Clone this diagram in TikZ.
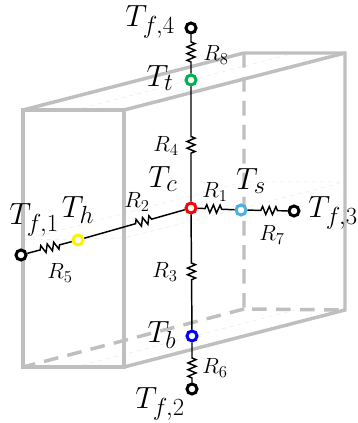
\documentclass[tikz,border=0pt]{standalone}
\usepackage{fix-cm}
\usetikzlibrary{decorations.pathmorphing}
\DeclareMathSizes{23}{23}{18.5}{14}
\DeclareMathSizes{16.5}{16.5}{12.5}{10}
\definecolor{boxgray}{RGB}{191,191,191}
\definecolor{skyblue}{RGB}{76,176,226}
\definecolor{tgreen}{RGB}{0,176,80}
\tikzset{
    temp/.style={draw=#1, circle, line width=2.25pt, fill=white,
                 minimum size=7.5pt, inner sep=0pt},
    wire/.style={line width=1.1pt},
    res/.style 2 args={wire, decorate, decoration={zigzag, amplitude=3pt,
                 segment length=5pt, pre length=#1, post length=#2}},
    edge/.style={draw=boxgray, line width=2.6pt, line join=miter},
    hidden/.style={edge, dash pattern=on 11pt off 7pt},
    faint/.style={draw=gray!14, line width=0.5pt, dashed},
    tlabel/.style={font=\fontsize{23}{28}\selectfont, inner sep=0pt},
    rlabel/.style={font=\fontsize{16.5}{20}\selectfont, inner sep=0pt},
}

\begin{document}
\begin{tikzpicture}[x=0.75pt,y=-0.75pt]
    \useasboundingbox (0,0) rectangle (357,423);

    \draw[faint] (75,110) -- (295,53);
    \draw[faint] (75,367) -- (295,310);
    \draw[faint] (23,240) -- (124,238) -- (345,182);
    \draw[faint] (23,240) -- (244,182) -- (345,182);

    \draw[hidden] (244,53) -- (244,309) -- (345,310);
    \draw[hidden] (244,309) -- (23,367);
    \draw[edge] (23,110) rectangle (124,367);
    \draw[edge] (23,110) -- (244,53) -- (345,53) -- (345,310) -- (124,367);
    \draw[edge] (124,110) -- (345,53);

    \node[temp=black] (tf4) at (191,28) {};
    \node[temp=tgreen] (tt) at (191,80) {};
    \node[temp=red] (tc) at (191,208) {};
    \node[temp=skyblue] (ts) at (241,210) {};
    \node[temp=black] (tf3) at (294,211) {};
    \node[temp=yellow] (th) at (78,240) {};
    \node[temp=black] (tf1) at (21,255) {};
    \node[temp=blue] (tb) at (192,336) {};
    \node[temp=black] (tf2) at (192,389) {};

    \draw[res={5.6pt}{8.6pt}] (tf4) -- (tt);
    \draw[res={37.5pt}{34pt}] (tt) -- (tc);
    \draw[res={36.4pt}{35.6pt}] (tc) -- (tb);
    \draw[res={11.6pt}{3.4pt}] (tb) -- (tf2);
    \draw[res={5.6pt}{8.6pt}] (tc) -- (ts);
    \draw[res={10pt}{5.6pt}] (ts) -- (tf3);
    \draw[res={40pt}{23.4pt}] (th) -- (tc);
    \draw[res={10pt}{9.4pt}] (tf1) -- (th);

    \node[tlabel] (ltf4) at (150,22) {$T_{f,4}$};
    \node[tlabel] (ltt) at (160,78) {$T_t$};
    \node[tlabel] (ltc) at (163,179) {$T_c$};
    \node[tlabel] (lts) at (251,181) {$T_s$};
    \node[tlabel] (ltf3) at (333,213) {$T_{f,3}$};
    \node[tlabel] (lth) at (78,210) {$T_h$};
    \node[tlabel] (ltf1) at (34,220) {$T_{f,1}$};
    \node[tlabel] (ltb) at (162,335) {$T_b$};
    \node[tlabel] (ltf2) at (160,404) {$T_{f,2}$};

    \node[rlabel] (lr8) at (216,55) {$R_8$};
    \node[rlabel] (lr4) at (166,146) {$R_4$};
    \node[rlabel] (lr1) at (215,192) {$R_1$};
    \node[rlabel] (lr2) at (137,202) {$R_2$};
    \node[rlabel] (lr7) at (272,235) {$R_7$};
    \node[rlabel] (lr5) at (60,273) {$R_5$};
    \node[rlabel] (lr3) at (165,272) {$R_3$};
    \node[rlabel] (lr6) at (215,368) {$R_6$};
\end{tikzpicture}
\end{document}
